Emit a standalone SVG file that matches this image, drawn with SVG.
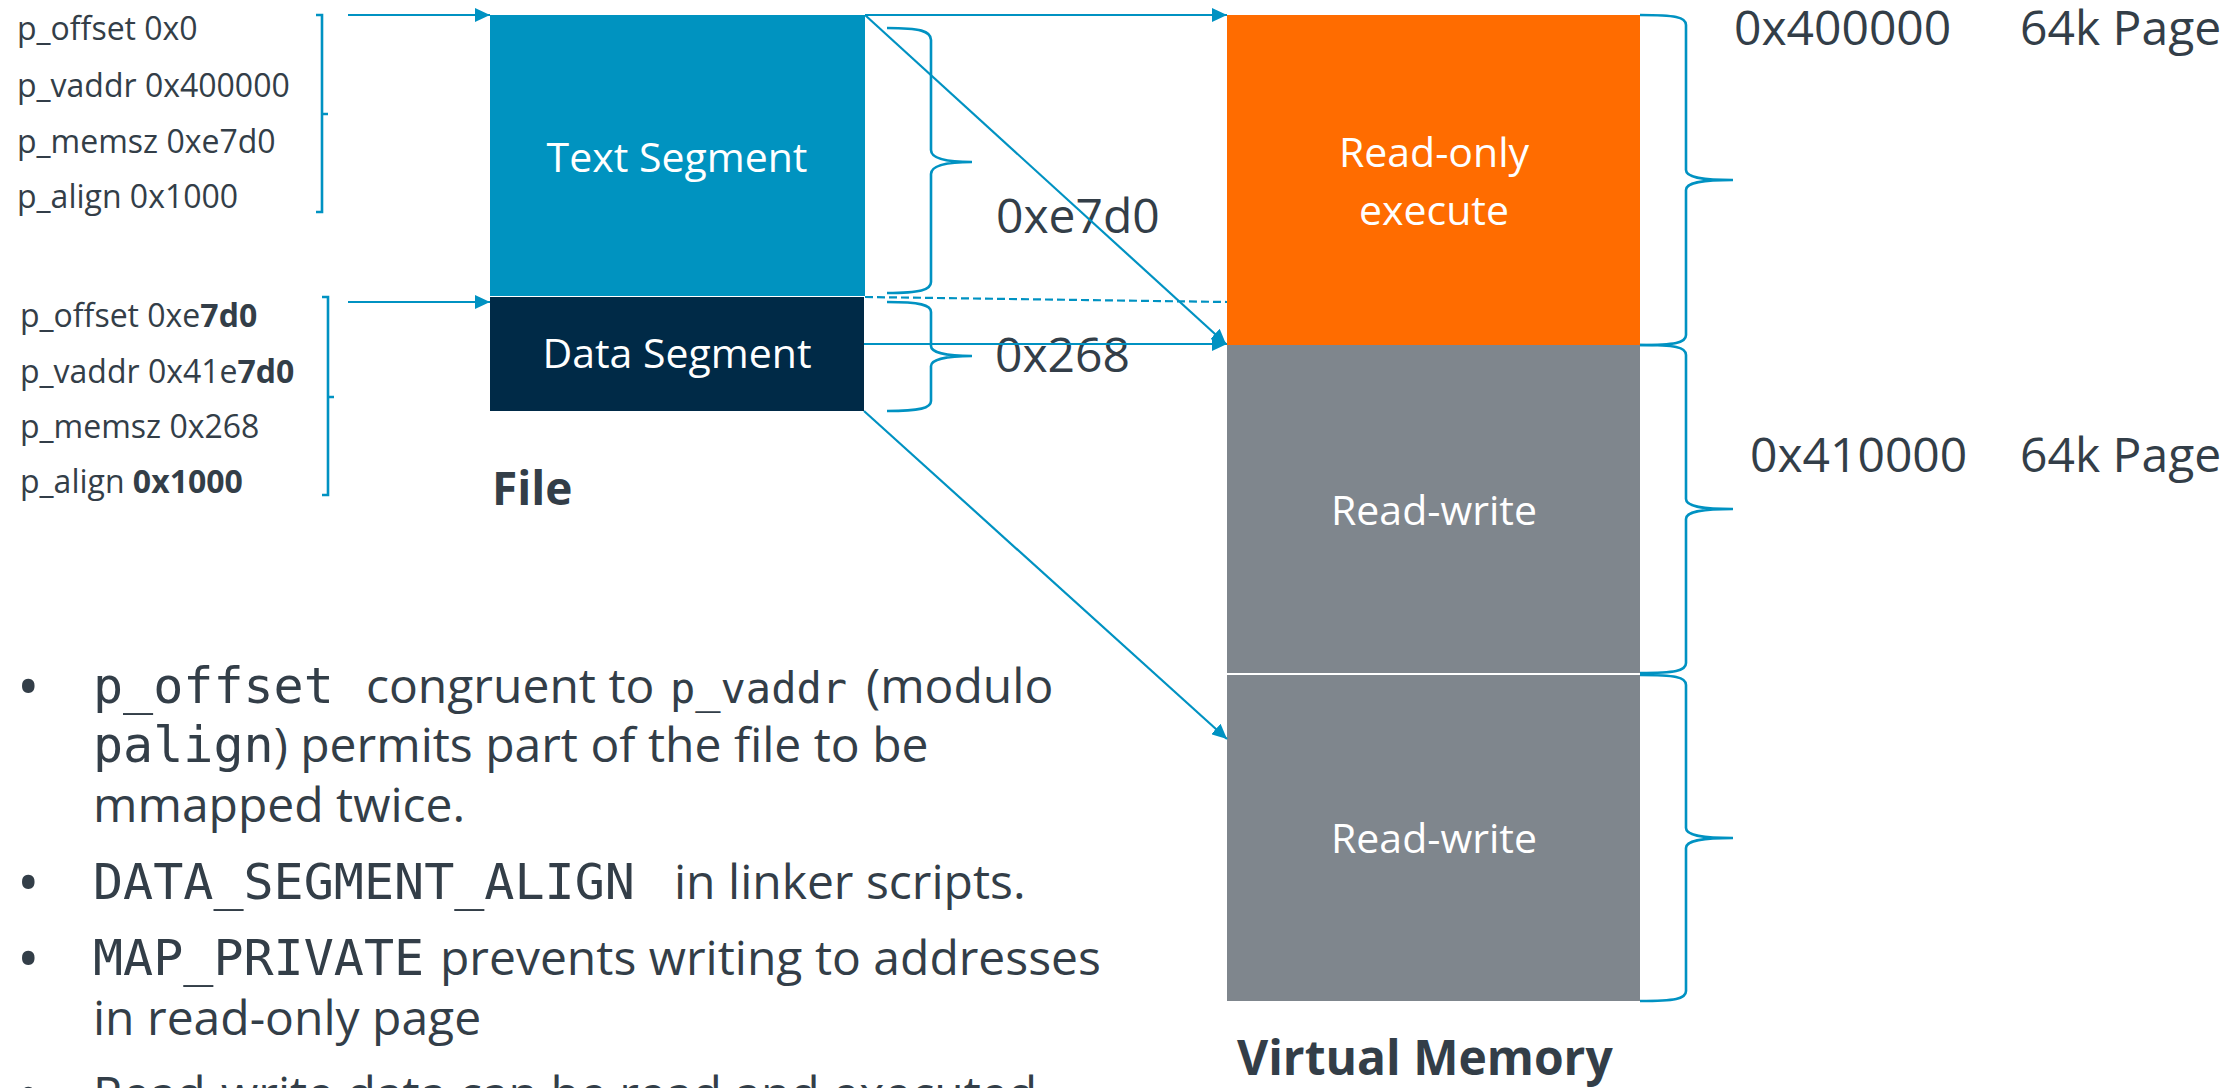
<svg xmlns="http://www.w3.org/2000/svg" width="2238" height="1088" viewBox="0 0 2238 1088">
<style>
.t{font-family:"Open Sans","Liberation Sans",sans-serif;fill:#333E48}
.m{font-family:"DejaVu Sans Mono","Liberation Mono",monospace}
.p{font-size:32px}
.w{font-family:"Open Sans","Liberation Sans",sans-serif;fill:#FFFFFF;font-size:41px;text-anchor:middle}
.big{font-size:48px}
.dot{font-size:60px}
.b{font-weight:700}
.ln{fill:none;stroke:#0092C2;stroke-width:2.2}
.br{fill:none;stroke:#0092C2;stroke-width:2.6}
.ar{marker-end:url(#ah)}
</style>
<defs>
<marker id="ah" markerUnits="userSpaceOnUse" markerWidth="16" markerHeight="14" refX="15" refY="7" orient="auto">
<path d="M0,0 L15,7 L0,14 z" fill="#0092C2"/>
</marker>
</defs>
<rect width="2238" height="1088" fill="#FFFFFF"/>

<g id="params-text">
<text class="t p" x="17" y="40">p_offset 0x0</text>
<text class="t p" x="17" y="97">p_vaddr 0x400000</text>
<text class="t p" x="17" y="153">p_memsz 0xe7d0</text>
<text class="t p" x="17" y="208">p_align 0x1000</text>
<path class="br" d="M316,15 H322 V212 H316 M322,114 H328"/>
</g>

<g id="params-data">
<text class="t p" x="20" y="327">p_offset 0xe<tspan class="b">7d0</tspan></text>
<text class="t p" x="20" y="383">p_vaddr 0x41e<tspan class="b">7d0</tspan></text>
<text class="t p" x="20" y="438">p_memsz 0x268</text>
<text class="t p" x="20" y="493">p_align <tspan class="b">0x1000</tspan></text>
<path class="br" d="M322,297 H328 V495 H322 M328,397 H334"/>
</g>

<g id="text-segment">
<rect x="490" y="15" width="375" height="281" fill="#0093C0"/>
<text class="w" x="677" y="172">Text Segment</text>
</g>

<g id="data-segment">
<rect x="490" y="297" width="374" height="114" fill="#002A47"/>
<text class="w" x="677" y="368">Data Segment</text>
</g>

<g id="file-label">
<text class="t b" x="492" y="505" font-size="46">File</text>
</g>

<g id="file-braces">
<path class="br" d="M887,28 C920,28 931,31 931,40 V150 C931,158 945,162 972,162 C945,162 931,166 931,174 V282 C931,290 920,293 887,293"/>
<text class="t big" x="996" y="233">0xe7d0</text>
<path class="br" d="M887,302 C920,302 931,305 931,312 V346 C931,352 945,356 972,356 C945,356 931,360 931,366 V401 C931,408 920,411 887,411"/>
<text class="t big" x="995" y="372">0x268</text>
</g>

<g id="mem-rx">
<rect x="1227" y="15" width="413" height="330" fill="#FF6C00"/>
<text class="w" x="1434" y="167">Read-only</text>
<text class="w" x="1434" y="225">execute</text>
</g>

<g id="mem-rw1">
<rect x="1227" y="345" width="413" height="328" fill="#7F868D"/>
<text class="w" x="1434" y="525">Read-write</text>
</g>

<g id="mem-rw2">
<rect x="1227" y="675" width="413" height="326" fill="#7F868D"/>
<text class="w" x="1434" y="853">Read-write</text>
</g>

<g id="mem-braces">
<path class="br" d="M1640,15 C1675,15 1686,17 1686,25 V170 C1686,177 1700,180 1733,180 C1700,180 1686,183 1686,190 V335 C1686,343 1675,345 1640,345"/>
<path class="br" d="M1640,345 C1675,345 1686,347 1686,355 V499 C1686,506 1700,509 1733,509 C1700,509 1686,512 1686,519 V663 C1686,671 1675,673 1640,673"/>
<path class="br" d="M1640,675 C1675,675 1686,677 1686,685 V828 C1686,835 1700,838 1733,838 C1700,838 1686,841 1686,848 V991 C1686,999 1675,1001 1640,1001"/>
<text class="t big" y="45"><tspan x="1734">0x400000</tspan><tspan x="2020">64k Page</tspan></text>
<text class="t big" y="472"><tspan x="1750">0x410000</tspan><tspan x="2020">64k Page</tspan></text>
</g>

<g id="vm-label">
<text class="t b" x="1237" y="1075" font-size="48">Virtual Memory</text>
</g>

<g id="connectors">
<path class="ln ar" d="M348,15 H490"/>
<path class="ln ar" d="M348,302 H490"/>
<path class="ln ar" d="M865,15 H1227"/>
<path class="ln ar" d="M865,15 L1226,344"/>
<path class="ln" stroke-dasharray="8,4" d="M865,297 L1227,302"/>
<path class="ln ar" d="M864,344 H1227"/>
<path class="ln ar" d="M864,411 L1227,739"/>
</g>

<g id="bullets">
<text class="t dot" x="17" y="708">•</text>
<text class="t big" y="703"><tspan class="m" x="93" font-size="50">p_offset</tspan><tspan x="366">congruent to</tspan><tspan class="m" x="670" font-size="42">p_vaddr</tspan><tspan x="866">(modulo</tspan></text>
<text class="t big" y="762"><tspan class="m" x="93" font-size="50">palign</tspan><tspan>) permits part of the file to be</tspan></text>
<text class="t big" x="93" y="822">mmapped twice.</text>
<text class="t dot" x="17" y="904">•</text>
<text class="t big" y="899"><tspan class="m" x="93" font-size="50">DATA_SEGMENT_ALIGN</tspan><tspan x="674">in linker scripts.</tspan></text>
<text class="t dot" x="17" y="980">•</text>
<text class="t big" y="975"><tspan class="m" x="93" font-size="50">MAP_PRIVATE</tspan><tspan x="440">prevents writing to addresses</tspan></text>
<text class="t big" x="93" y="1035">in read-only page</text>
<text class="t dot" x="17" y="1116">•</text>
<text class="t big" x="93" y="1111">Read-write data can be read and executed</text>
</g>
</svg>
